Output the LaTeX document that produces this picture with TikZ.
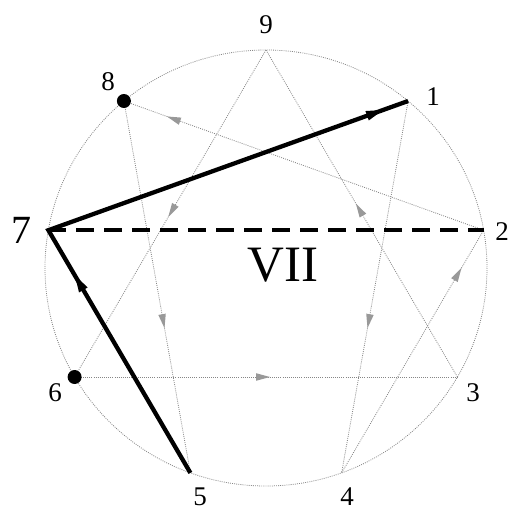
\documentclass[tikz,border=0pt]{standalone}
\usepackage{fontspec}
\setmainfont{Liberation Serif}
\usetikzlibrary{arrows.meta,decorations.markings}
\tikzset{
  faint/.style={draw=gray!95, line width=0.8pt, dash pattern=on 0.9pt off 1.2pt},
  garrow/.style={faint, postaction={decorate}, decoration={markings,
     mark=at position #1 with {\fill[gray!80] (4pt,0) -- (-10pt,3.8pt) -- (-10pt,-3.8pt) -- cycle;}}},
  heavy/.style={draw=black, line width=4.3pt},
  lbl/.style={font=\fontsize{27}{27}\selectfont, inner sep=0pt},
  dotmark/.style={circle, fill=black, inner sep=0pt, minimum size=14pt}
}
\begin{document}
\begin{tikzpicture}[x=1pt,y=-1pt]
\useasboundingbox (0,0) rectangle (512,516);
% vertices
\coordinate (p9) at (266,50);
\coordinate (p1) at (408.1,101);
\coordinate (p2) at (483.6,230.2);
\coordinate (p3) at (457.4,377);
\coordinate (p4) at (341.6,472.9);
\coordinate (p5) at (190.4,472.9);
\coordinate (p6) at (74.6,377);
\coordinate (p7) at (48.4,230.2);
\coordinate (p8) at (123.9,101);
\coordinate (c) at (266,268);
% circle
\draw[faint] (c) ellipse [x radius=221, y radius=218];
% triangle 9-6-3
\draw[garrow=0.5] (p9) -- (p6);
\draw[garrow=0.5] (p6) -- (p3);
\draw[garrow=0.52] (p3) -- (p9);
% hexad
\draw[garrow=0.6] (p1) -- (p4);
\draw[garrow=0.83] (p4) -- (p2);
\draw[garrow=0.87] (p2) -- (p8);
\draw[garrow=0.6] (p8) -- (p5);
% heavy lines
\draw[heavy, line width=3.6pt, dash pattern=on 18pt off 10pt] (p7) -- (p2);
\draw[heavy, line join=miter] (p5) -- (p7) -- (p1);
\draw[heavy, draw=none, postaction={decorate}, decoration={markings,
   mark=at position 0.92 with {\fill (4pt,0) -- (-13pt,5pt) -- (-13pt,-5pt) -- cycle;}}] (p7) -- (p1);
\draw[heavy, draw=none, postaction={decorate}, decoration={markings,
   mark=at position 0.8 with {\fill (4pt,0) -- (-13pt,5pt) -- (-13pt,-5pt) -- cycle;}}] (p5) -- (p7);
% dots
\node[dotmark] (d8) at (p8) {};
\node[dotmark] (d6) at (p6) {};
% labels
\node[lbl] (l9) at (266,25) {9};
\node[lbl] (l8) at (108,82) {8};
\node[lbl] (l1) at (433,97) {1};
\node[lbl, font=\fontsize{40}{40}\selectfont] (l7) at (21,230) {7};
\node[lbl] (l2) at (502,232) {2};
\node[lbl] (l6) at (55,393) {6};
\node[lbl] (l3) at (473,393) {3};
\node[lbl] (l5) at (200,497) {5};
\node[lbl] (l4) at (347,497) {4};
\node[lbl, font=\fontsize{51}{51}\selectfont] (vii) at (283,265) {VII};
\end{tikzpicture}
\end{document}
